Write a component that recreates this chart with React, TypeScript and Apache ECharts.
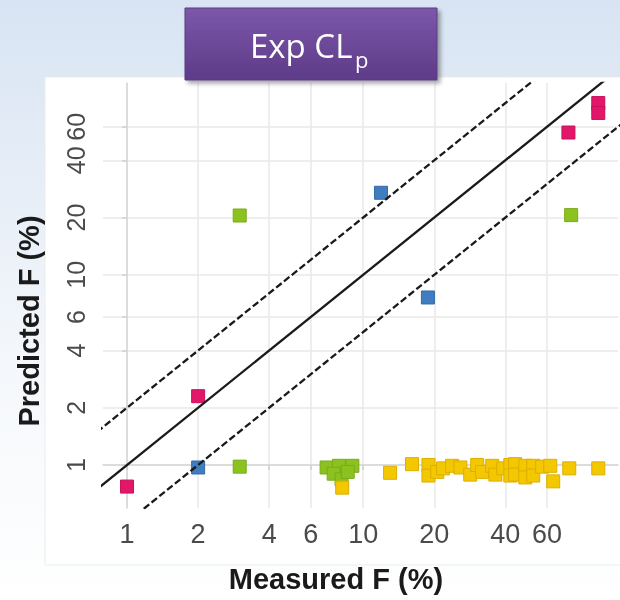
import React, { useEffect, useRef } from 'react';
import * as echarts from 'echarts';

// Tick values (shown on log-scaled axes)
const xTickValues = [1, 2, 4, 6, 10, 20, 40, 60];
const yTickValues = [1, 2, 4, 6, 10, 20, 40, 60];
const xRange = [0.791, 120];
const yRange = [0.594, 102];

// Measured F (%), Predicted F (%)
const pinkPoints = [[1, 0.77], [2, 2.3], [74, 56], [99, 80], [99, 71]];
const bluePoints = [[2, 0.97], [11.9, 27], [18.8, 7.6]];
const greenPoints = [
  [3, 20.5], [3, 0.98], [76, 20.6],
  [7.0, 0.97], [7.9, 0.99], [9.0, 0.99], [7.5, 0.9], [8.1, 0.84], [8.6, 0.92],
];
const yellowPoints = [
  [8.15, 0.76], [13.0, 0.91], [16.1, 1.01], [18.9, 1.0], [18.9, 0.88], [20.6, 0.92],
  [21.8, 0.96], [23.8, 0.99], [25.8, 0.97], [28.4, 0.89], [30.4, 1.0], [31.9, 0.92],
  [35.2, 0.99], [36.3, 0.89], [39.2, 0.96], [42.0, 1.0], [42.0, 0.88], [44.0, 1.01],
  [44.0, 0.89], [48.6, 0.99], [48.6, 0.86], [52.5, 0.99], [52.5, 0.88], [57.3, 0.98],
  [62.0, 0.99], [63.8, 0.82], [74.6, 0.96], [99, 0.96],
];
// Fold lines: identity, 2-fold above, 2-fold below
const foldRatios = [1, 2, 0.5];

const L = (v: number) => Math.log10(v);
const toLog = (pts: number[][]) => pts.map(([x, y]) => [L(x), L(y)]);

export default function App() {
  const ref = useRef<HTMLDivElement>(null);
  useEffect(() => {
    if (!ref.current) return;
    const chart = echarts.init(ref.current, undefined, { renderer: 'svg' });
    const fmt = (v: number) => String(Math.round(Math.pow(10, v)));
    const labelFont = "'Liberation Sans', Arial, sans-serif";

    const scatter = (name: string, pts: number[][], color: string, border: string, z: number) => ({
      name,
      type: 'scatter',
      data: toLog(pts),
      symbol: 'rect',
      symbolSize: 13,
      z,
      itemStyle: { color, borderColor: border, borderWidth: 1, opacity: 1 },
      silent: true,
    });

    const lines = foldRatios.map((r) => ({
      type: 'line',
      data: [
        [L(0.3), L(0.3 * r)],
        [L(300), L(300 * r)],
      ],
      showSymbol: false,
      symbol: 'none',
      clip: true,
      z: 6,
      silent: true,
      lineStyle: { color: '#1a1a1a', width: 2.3, type: r === 1 ? 'solid' : [7, 3] },
    }));

    const option: any = {
      animation: false,
      backgroundColor: 'transparent',
      grid: { left: 103, top: 83, width: 515, height: 425 },
      xAxis: {
        type: 'value',
        min: L(xRange[0]),
        max: L(xRange[1]),
        axisLine: { show: true, lineStyle: { color: '#d6d6d6', width: 1.5 } },
        axisTick: {
          show: true,
          length: 5,
          customValues: xTickValues.map(L),
          lineStyle: { color: '#d0d0d0', width: 1.5 },
        },
        axisLabel: {
          customValues: xTickValues.map(L),
          formatter: fmt,
          fontSize: 27,
          color: '#4a4a4a',
          fontFamily: labelFont,
          margin: 12,
        },
        splitLine: { show: true, lineStyle: { color: '#e8e8e8', width: 1.5 } },
      },
      yAxis: {
        type: 'value',
        min: L(yRange[0]),
        max: L(yRange[1]),
        axisLine: { show: true, lineStyle: { color: '#d6d6d6', width: 1.5 } },
        axisTick: {
          show: true,
          length: 5,
          customValues: yTickValues.map(L),
          lineStyle: { color: '#d0d0d0', width: 1.5 },
        },
        axisLabel: {
          customValues: yTickValues.map(L),
          formatter: fmt,
          rotate: 90,
          fontSize: 25,
          color: '#4a4a4a',
          fontFamily: labelFont,
          margin: 15,
        },
        splitLine: { show: true, lineStyle: { color: '#e8e8e8', width: 1.5 } },
      },
      series: [
        scatter('green', greenPoints, '#8cc220', '#7aab18', 3),
        scatter('yellow', yellowPoints, '#f4c800', '#dcae00', 3),
        scatter('blue', bluePoints, '#3f7cc0', '#346aa6', 4),
        scatter('pink', pinkPoints, '#e3176a', '#c9105a', 4),
        ...lines,
      ],
      graphic: [
        {
          type: 'rect',
          z: -20,
          silent: true,
          shape: { x: 0, y: 0, width: 620, height: 600 },
          style: {
            fill: new echarts.graphic.LinearGradient(0, 0, 0, 1, [
              { offset: 0, color: '#d8e4f3' },
              { offset: 0.6, color: '#f4f7fb' },
              { offset: 1, color: '#ffffff' },
            ]),
          },
        },
        {
          type: 'rect',
          z: -19,
          silent: true,
          shape: { x: 45, y: 77, width: 585, height: 488 },
          style: { fill: '#ffffff', stroke: '#ececec', lineWidth: 1 },
        },
        {
          type: 'rect',
          z: 100,
          silent: true,
          shape: { x: 185, y: 8, width: 252, height: 72 },
          style: {
            fill: new echarts.graphic.LinearGradient(0, 0, 0, 1, [
              { offset: 0, color: '#7c57aa' },
              { offset: 1, color: '#5e3b88' },
            ]),
            stroke: '#5a3a82',
            lineWidth: 1,
            shadowBlur: 4,
            shadowOffsetX: 3,
            shadowOffsetY: 3,
            shadowColor: 'rgba(0,0,0,0.35)',
          },
        },
        {
          type: 'text',
          z: 101,
          silent: true,
          style: {
            text: 'Exp CL',
            x: 250,
            y: 45,
            fill: '#ffffff',
            font: "33px 'Open Sans', sans-serif",
            textAlign: 'left',
            textVerticalAlign: 'middle',
          },
        },
        {
          type: 'text',
          z: 101,
          silent: true,
          style: {
            text: 'p',
            x: 355,
            y: 59,
            fill: '#ffffff',
            font: "22px 'Open Sans', sans-serif",
            textAlign: 'left',
            textVerticalAlign: 'middle',
          },
        },
        {
          type: 'text',
          z: 50,
          silent: true,
          style: {
            text: 'Measured F (%)',
            x: 336,
            y: 579,
            fill: '#1a1a1a',
            font: "bold 29px 'Liberation Sans', Arial, sans-serif",
            textAlign: 'center',
            textVerticalAlign: 'middle',
          },
        },
        {
          type: 'text',
          z: 50,
          silent: true,
          x: 29,
          y: 321,
          rotation: Math.PI / 2,
          style: {
            text: 'Predicted F (%)',
            x: 0,
            y: 0,
            fill: '#1a1a1a',
            font: "bold 29px 'Liberation Sans', Arial, sans-serif",
            textAlign: 'center',
            textVerticalAlign: 'middle',
          },
        },
      ],
    };
    chart.setOption(option);
    return () => chart.dispose();
  }, []);
  return (
    <div
      ref={ref}
      style={{ position: 'fixed', left: 0, top: 0, width: 620, height: 600 }}
    />
  );
}
